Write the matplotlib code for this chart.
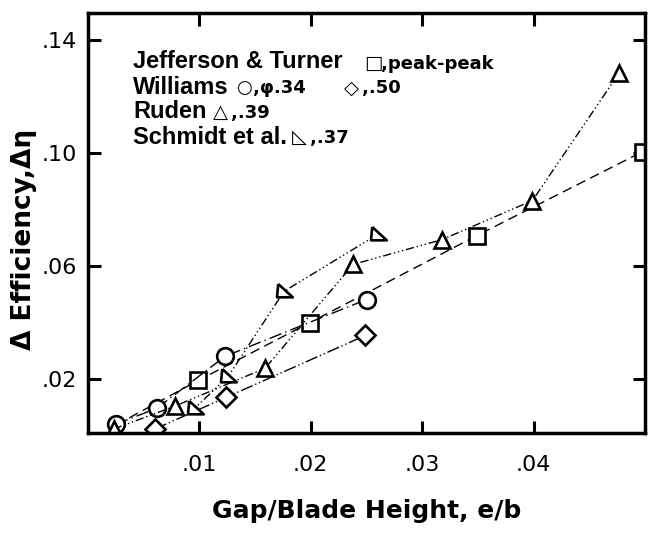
import matplotlib
matplotlib.use("Agg")
import matplotlib.pyplot as plt
from matplotlib import font_manager

W, H = 649, 544

# ---- data ----
jt_x = [0.0025, 0.0099, 0.0199, 0.0349, 0.0498]
jt_y = [0.0038, 0.0196, 0.0400, 0.0708, 0.1005]

wc_x = [0.0025, 0.0062, 0.0123, 0.0250]
wc_y = [0.0041, 0.0098, 0.0281, 0.0482]

wd_x = [0.0060, 0.0124, 0.0249]
wd_y = [0.0024, 0.0136, 0.0355]

ru_x = [0.0023, 0.0078, 0.0159, 0.0238, 0.0318, 0.0399, 0.0477]
ru_y = [0.0024, 0.0105, 0.0239, 0.0606, 0.0694, 0.0832, 0.1284]

sc_x = [0.0096, 0.0126, 0.0176, 0.0260]
sc_y = [0.0098, 0.0211, 0.0511, 0.0712]

xticks = [0.01, 0.02, 0.03, 0.04]
xticklabels = [".01", ".02", ".03", ".04"]
yticks = [0.02, 0.06, 0.10, 0.14]
yticklabels = [".02", ".06", ".10", ".14"]

names = set(f.name for f in font_manager.fontManager.ttflist)
narrow = "Liberation Sans Narrow" if "Liberation Sans Narrow" in names else "DejaVu Sans"

fig = plt.figure(figsize=(W / 100, H / 100), dpi=100)
ax = fig.add_axes([88 / W, 1 - 433 / H, (645 - 88) / W, (433 - 13) / H])

base = dict(color="black", lw=1.0, mfc="white", mec="black", mew=1.9)
sch_marker = [(-0.75, 0.9), (-0.9, -0.7), (1.0, -0.7), (-0.75, 0.9)]

ax.plot(jt_x, jt_y, marker="s", ls=(0, (7, 4)), markevery=[1, 2, 3, 4], ms=11, **base)
ax.plot(wc_x, wc_y, marker="o", ls=(0, (9, 3, 1, 3)), ms=12, **base)
ax.plot(wd_x, wd_y, marker="D", ls=(0, (9, 2, 1, 2, 1, 2)), ms=10, **base)
ax.plot(ru_x, ru_y, marker="^", ls=(0, (6, 2, 1, 2, 1, 2, 1, 2)), ms=12, **base)
ax.plot(sc_x, sc_y, marker=sch_marker, ls=(0, (1, 2, 1, 2, 1, 2, 6, 2)), ms=12, **base)

ax.set_xlim(0, 0.05)
ax.set_ylim(0.001, 0.1495)
ax.set_xticks(xticks)
ax.set_xticklabels(xticklabels)
ax.set_yticks(yticks)
ax.set_yticklabels(yticklabels)
ax.tick_params(direction="in", length=9, width=2.2, top=True, right=True,
               labelsize=16)
ax.tick_params(axis="x", pad=16)
ax.tick_params(axis="y", pad=8)
for lab in ax.get_xticklabels() + ax.get_yticklabels():
    lab.set_family(narrow)
for s in ax.spines.values():
    s.set_linewidth(2.5)

ax.set_xlabel("Gap/Blade Height, e/b", fontsize=18, fontweight="bold", labelpad=17)
ax.set_ylabel("Δ Efficiency,Δη", fontsize=19, fontweight="bold")
ax.yaxis.set_label_coords(-0.092, 0.46)

def t(x, y, s, size=17, weight="bold", family="Liberation Sans"):
    fig.text(x / W, 1 - y / H, s, fontsize=size, fontweight=weight,
             family=[family, "DejaVu Sans"], va="center", ha="left")

# legend text
t(133, 62, "Jefferson & Turner")
t(364, 63, "□", size=14, weight="normal", family="DejaVu Sans")
t(381, 64, ",peak-peak", size=13, family="DejaVu Sans")
t(133, 87, "Williams")
t(236, 88, "○", size=13, weight="normal", family="DejaVu Sans")
t(253, 88, ",φ.34", size=13, family="DejaVu Sans")
t(344, 88, "◇", size=14, weight="normal", family="DejaVu Sans")
t(362, 88, ",.50", size=13, family="DejaVu Sans")
t(133, 112, "Ruden")
t(213, 112, "△", size=14, weight="normal", family="DejaVu Sans")
t(231, 113, ",.39", size=13, family="DejaVu Sans")
t(133, 137, "Schmidt et al.")
t(292, 137, "◺", size=14, weight="normal", family="DejaVu Sans")
t(310, 138, ",.37", size=13, family="DejaVu Sans")

fig.savefig("out.png", dpi=100)
